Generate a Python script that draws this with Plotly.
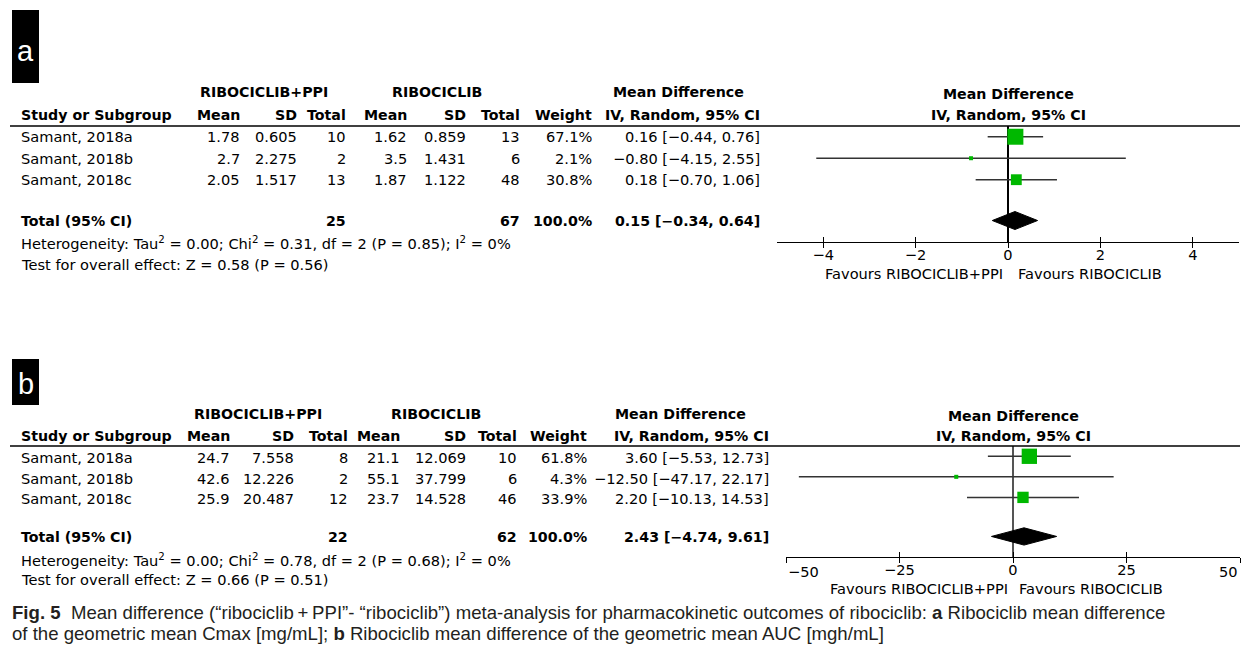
import math
import plotly.graph_objects as go

W, H = 1242, 651

studies = ["Samant, 2018a", "Samant, 2018b", "Samant, 2018c"]

# (a) Cmax [mg/mL]
a_ppi_mean = [1.78, 2.7, 2.05]
a_ppi_sd = [0.605, 2.275, 1.517]
a_ppi_n = [10, 2, 13]
a_ctl_mean = [1.62, 3.5, 1.87]
a_ctl_sd = [0.859, 1.431, 1.122]
a_ctl_n = [13, 6, 48]
a_weight = [67.1, 2.1, 30.8]
a_md = [0.16, -0.80, 0.18]
a_lo = [-0.44, -4.15, -0.70]
a_hi = [0.76, 2.55, 1.06]
a_total = [0.15, -0.34, 0.64]
a_het = "Heterogeneity: Tau<sup>2</sup> = 0.00; Chi<sup>2</sup> = 0.31, df = 2 (P = 0.85); I<sup>2</sup> = 0%"
a_test = "Test for overall effect: Z = 0.58 (P = 0.56)"
a_ticks = [-4, -2, 0, 2, 4]

# (b) AUC [mgh/mL]
b_ppi_mean = [24.7, 42.6, 25.9]
b_ppi_sd = [7.558, 12.226, 20.487]
b_ppi_n = [8, 2, 12]
b_ctl_mean = [21.1, 55.1, 23.7]
b_ctl_sd = [12.069, 37.799, 14.528]
b_ctl_n = [10, 6, 46]
b_weight = [61.8, 4.3, 33.9]
b_md = [3.60, -12.50, 2.20]
b_lo = [-5.53, -47.17, -10.13]
b_hi = [12.73, 22.17, 14.53]
b_total = [2.43, -4.74, 9.61]
b_het = "Heterogeneity: Tau<sup>2</sup> = 0.00; Chi<sup>2</sup> = 0.78, df = 2 (P = 0.68); I<sup>2</sup> = 0%"
b_test = "Test for overall effect: Z = 0.66 (P = 0.51)"
b_ticks = [-50, -25, 0, 25, 50]

caption_lines = [
    "<b>Fig. 5</b>  Mean difference (\u201cribociclib\u2009+\u2009PPI\u201d- \u201cribociclib\u201d) "
    "meta-analysis for pharmacokinetic outcomes of ribociclib: <b>a</b> Ribociclib mean difference",
    "of the geometric mean Cmax [mg/mL]; <b>b</b> Ribociclib mean difference of the "
    "geometric mean AUC [mgh/mL]",
]

GREEN = "#00b800"
FONT = "DejaVu Sans"
FS = 14.6
FSB = 14.2
MINUS = "\u2212"


def px(x):
    return x / W


def py(y):
    return 1 - y / H


def num(v):
    return f"{v:g}"


def ci(m, l, h):
    return f"{m:.2f} [{l:.2f}, {h:.2f}]".replace("-", MINUS)


def tick_label(t):
    return str(t).replace("-", MINUS)


fig = go.Figure()
annotations = []
shapes = []


def text(x, y, s, anchor="right", bold=False, size=None, color="black", family=FONT, **kw):
    if size is None:
        size = FSB if bold else FS
    annotations.append(dict(
        x=px(x), y=py(y), xref="paper", yref="paper",
        text=f"<b>{s}</b>" if bold else s, showarrow=False,
        xanchor=anchor, yanchor="middle",
        font=dict(family=family, size=size, color=color), **kw))


panels = [
    dict(tag="a", top=10, box_bottom=83, tag_y=51, hdr1=92, hdr2=115, rule=126,
         rows=[137, 158, 179], tot=221, het_y=243, test_y=264, axis_y=242,
         cols=[242, 299, 348, 409, 468, 522, 594, 762], grp=[264, 437, 678],
         x0=777, x1=1239, rng=[-5, 5], ticks=a_ticks, fav_y=273,
         ppi_mean=a_ppi_mean, ppi_sd=a_ppi_sd, ppi_n=a_ppi_n,
         ctl_mean=a_ctl_mean, ctl_sd=a_ctl_sd, ctl_n=a_ctl_n,
         weight=a_weight, md=a_md, lo=a_lo, hi=a_hi, total=a_total,
         het=a_het, test=a_test, zcolor="black", xa="x", ya="y"),
    dict(tag="b", top=359, box_bottom=405, tag_y=384, hdr1=414, hdr2=436, rule=446,
         rows=[457, 478, 498], tot=537, het_y=560, test_y=579, axis_y=557,
         cols=[232, 296, 350, 402, 468, 519, 589, 771], grp=[258, 436, 680],
         x0=786, x1=1240, rng=[-50, 50], ticks=b_ticks, fav_y=588,
         ppi_mean=b_ppi_mean, ppi_sd=b_ppi_sd, ppi_n=b_ppi_n,
         ctl_mean=b_ctl_mean, ctl_sd=b_ctl_sd, ctl_n=b_ctl_n,
         weight=b_weight, md=b_md, lo=b_lo, hi=b_hi, total=b_total,
         het=b_het, test=b_test, zcolor="#555555", xa="x2", ya="y2"),
]

ROW_Y = [0, 1, 2]
TOT_Y = 3.9
Y_RANGE = [4.9, -0.5]

for i, p in enumerate(panels):
    c = p["cols"]
    # panel letter tab
    shapes.append(dict(type="rect", xref="paper", yref="paper",
                       x0=px(12), x1=px(39), y0=py(p["box_bottom"]), y1=py(p["top"]),
                       fillcolor="black", line=dict(width=0)))
    text(25.5, p["tag_y"], p["tag"], anchor="center", size=29, color="white",
         family="Liberation Sans")

    # column headers
    for gx, lab in zip(p["grp"], ["RIBOCICLIB+PPI", "RIBOCICLIB", "Mean Difference"]):
        text(gx, p["hdr1"], lab, anchor="center", bold=True)
    text(19, p["hdr2"], "Study or Subgroup", anchor="left", bold=True)
    for col, lab in zip(c, ["Mean", "SD", "Total", "Mean", "SD", "Total", "Weight",
                            "IV, Random, 95% CI"]):
        text(col, p["hdr2"], lab, bold=True)
    mid = (p["x0"] + p["x1"]) / 2
    text(mid, p["hdr1"] + 2, "Mean Difference", anchor="center", bold=True)
    text(mid, p["hdr2"], "IV, Random, 95% CI", anchor="center", bold=True)
    shapes.append(dict(type="line", xref="paper", yref="paper",
                       x0=px(10), x1=px(1240), y0=py(p["rule"]), y1=py(p["rule"]),
                       line=dict(color="black", width=1.5)))

    # study rows
    for k, name in enumerate(studies):
        y = p["rows"][k]
        text(19, y, name, anchor="left")
        vals = [num(p["ppi_mean"][k]), num(p["ppi_sd"][k]), str(p["ppi_n"][k]),
                num(p["ctl_mean"][k]), num(p["ctl_sd"][k]), str(p["ctl_n"][k]),
                f"{p['weight'][k]:.1f}%", ci(p["md"][k], p["lo"][k], p["hi"][k])]
        for col, v in zip(c, vals):
            text(col, y, v)

    # pooled row and footnotes
    text(19, p["tot"], "Total (95% CI)", anchor="left", bold=True)
    text(c[2], p["tot"], str(sum(p["ppi_n"])), bold=True)
    text(c[5], p["tot"], str(sum(p["ctl_n"])), bold=True)
    text(c[6], p["tot"], f"{sum(p['weight']):.1f}%", bold=True)
    text(c[7], p["tot"], ci(*p["total"]), bold=True)
    text(19, p["het_y"], p["het"], anchor="left")
    text(19, p["test_y"], p["test"], anchor="left")

    # forest plot: confidence intervals
    xs, ys = [], []
    for k in range(3):
        xs += [p["lo"][k], p["hi"][k], None]
        ys += [ROW_Y[k], ROW_Y[k], None]
    fig.add_trace(go.Scatter(x=xs, y=ys, mode="lines", xaxis=p["xa"], yaxis=p["ya"],
                             line=dict(color="#333333", width=1.5),
                             hoverinfo="skip", showlegend=False))
    # study estimates, square size scaled by weight
    fig.add_trace(go.Scatter(x=p["md"], y=ROW_Y, mode="markers", xaxis=p["xa"], yaxis=p["ya"],
                             marker=dict(symbol="square", color=GREEN, opacity=1,
                                         size=[max(4, 1.95 * math.sqrt(w)) for w in p["weight"]],
                                         line=dict(width=0)),
                             showlegend=False))
    # pooled estimate diamond
    est, lo, hi = p["total"]
    h = 0.42
    fig.add_trace(go.Scatter(x=[lo, est, hi, est, lo], y=[TOT_Y, TOT_Y - h, TOT_Y, TOT_Y + h, TOT_Y],
                             mode="lines", fill="toself", fillcolor="black",
                             line=dict(color="black", width=1), xaxis=p["xa"], yaxis=p["ya"],
                             hoverinfo="skip", showlegend=False))

    # axes
    xdom = [px(p["x0"]), px(p["x1"])]
    ydom = [py(p["axis_y"]), py(p["rule"])]
    xname = "xaxis" if i == 0 else "xaxis2"
    yname = "yaxis" if i == 0 else "yaxis2"
    labelled = p["ticks"] if i == 0 else p["ticks"][1:-1]
    fig.update_layout(**{
        xname: dict(domain=xdom, range=p["rng"], anchor=p["ya"], showgrid=False,
                    zeroline=True, zerolinecolor=p["zcolor"], zerolinewidth=1.5,
                    showline=True, linecolor="black", linewidth=1.2,
                    ticks="outside", ticklen=5, tickwidth=1.2, tickcolor="black",
                    tickvals=labelled, ticktext=[tick_label(t) for t in labelled],
                    ticklabelstandoff=-6,
                    tickfont=dict(family=FONT, size=FS, color="black"), fixedrange=True),
        yname: dict(domain=ydom, range=Y_RANGE, showgrid=False, zeroline=False,
                    showticklabels=False, showline=False, fixedrange=True),
    })
    # favours labels around zero
    annotations.append(dict(x=0, y=py(p["fav_y"]), xref=p["xa"], yref="paper",
                            text="Favours RIBOCICLIB+PPI", showarrow=False, xanchor="right",
                            yanchor="middle", xshift=-3,
                            font=dict(family=FONT, size=FS, color="black")))
    annotations.append(dict(x=0, y=py(p["fav_y"]), xref=p["xa"], yref="paper",
                            text="Favours RIBOCICLIB", showarrow=False, xanchor="left",
                            yanchor="middle", xshift=8 if i == 0 else 4,
                            font=dict(family=FONT, size=FS, color="black")))

# panel b end ticks: labels sit flush with the axis ends
for t, anc in ((b_ticks[0], "left"), (b_ticks[-1], "right")):
    annotations.append(dict(x=t, y=py(571), xref="x2", yref="paper",
                            text=tick_label(t), showarrow=False,
                            xanchor=anc, yanchor="middle",
                            font=dict(family=FONT, size=FS, color="black")))

# tick marks crossing the axis line (upper halves and panel b end ticks)
tick_style = dict(tickwidth=1.2, tickcolor="black", showticklabels=False,
                  showgrid=False, zeroline=False, showline=False)
fig.update_layout(
    xaxis3=dict(overlaying="x", anchor="y", range=[-5, 5], tickvals=a_ticks,
                ticks="inside", ticklen=5, **tick_style),
    xaxis4=dict(overlaying="x2", anchor="y2", range=[-50, 50], tickvals=b_ticks,
                ticks="inside", ticklen=5, **tick_style),
    xaxis5=dict(overlaying="x2", anchor="y2", range=[-50, 50],
                tickvals=[b_ticks[0], b_ticks[-1]], ticks="outside", ticklen=5, **tick_style),
)
for xa, ya in (("x3", "y"), ("x4", "y2"), ("x5", "y2")):
    fig.add_trace(go.Scatter(x=[0], y=[0], xaxis=xa, yaxis=ya, mode="markers",
                             marker=dict(size=0, opacity=0), hoverinfo="skip",
                             showlegend=False))

# figure caption
for y, line in zip([612, 633], caption_lines):
    annotations.append(dict(x=px(10), y=py(y), xref="paper", yref="paper", text=line,
                            showarrow=False, xanchor="left", yanchor="middle", align="left",
                            font=dict(family="Liberation Sans, Arial", size=18.6,
                                      color="#231f20")))

fig.update_layout(
    width=W, height=H, margin=dict(l=0, r=0, t=0, b=0),
    paper_bgcolor="white", plot_bgcolor="white",
    annotations=annotations, shapes=shapes, showlegend=False,
)

fig.write_html("out.html")
